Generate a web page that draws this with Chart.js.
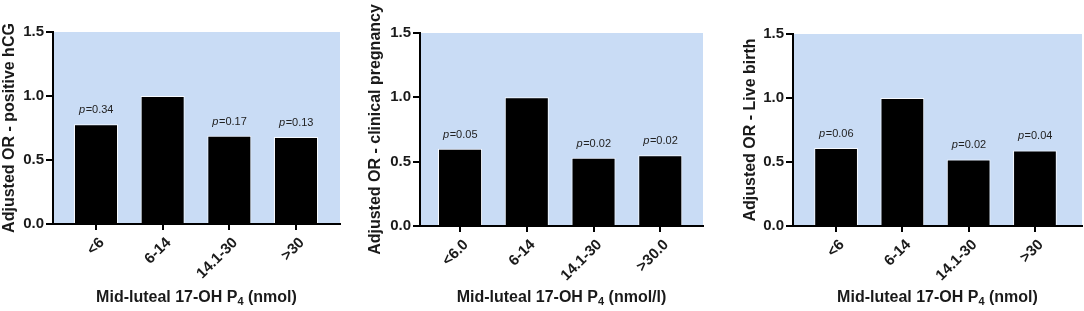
<!DOCTYPE html>
<html>
<head>
<meta charset="utf-8">
<script src="https://cdn.jsdelivr.net/npm/chart.js@4.4.1/dist/chart.umd.min.js"></script>
<style>
  html, body { margin: 0; padding: 0; background: #fff; }
  body { width: 1084px; height: 311px; position: relative; overflow: hidden; }
  .panel { position: absolute; top: 0; height: 311px; }
</style>
</head>
<body>
<div class="panel" id="w1" style="left:0;width:350px"><canvas id="c1" width="350" height="311"></canvas></div>
<div class="panel" id="w2" style="left:360px;width:350px"><canvas id="c2" width="350" height="311"></canvas></div>
<div class="panel" id="w3" style="left:720px;width:364px"><canvas id="c3" width="364" height="311"></canvas></div>
<script>
// ---- Data ----
const categoriesA = ['<6', '6-14', '14.1-30', '>30'];
const categoriesB = ['<6.0', '6-14', '14.1-30', '>30.0'];
const categoriesC = ['<6', '6-14', '14.1-30', '>30'];

const orPositiveHCG = [0.78, 1.00, 0.69, 0.68];
const orClinicalPregnancy = [0.60, 1.00, 0.53, 0.55];
const orLiveBirth = [0.61, 1.00, 0.52, 0.59];

const pPositiveHCG = ['0.34', null, '0.17', '0.13'];
const pClinicalPregnancy = ['0.05', null, '0.02', '0.02'];
const pLiveBirth = ['0.06', null, '0.02', '0.04'];

const yTitles = ['Adjusted OR - positive hCG', 'Adjusted OR - clinical pregnancy', 'Adjusted OR - Live birth'];
const xTitleUnits = ['(nmol)', '(nmol/l)', '(nmol)'];
const yTicks = [0, 0.5, 1.0, 1.5];

// ---- Plugins ----
const bgPlugin = {
  id: 'bg',
  beforeDraw(chart) {
    const a = chart.chartArea, ctx = chart.ctx;
    ctx.save();
    ctx.fillStyle = '#c9dcf5';
    ctx.fillRect(a.left, a.top, a.right - a.left, a.bottom - a.top);
    ctx.restore();
  }
};

const pLabelPlugin = {
  id: 'pLabels',
  afterDatasetsDraw(chart, args, opts) {
    const ctx = chart.ctx;
    const meta = chart.getDatasetMeta(0);
    const pv = opts.values || [];
    ctx.save();
    ctx.fillStyle = '#222';
    ctx.textBaseline = 'alphabetic';
    ctx.textAlign = 'left';
    meta.data.forEach((bar, i) => {
      if (!pv[i]) return;
      const f1 = 'italic 11px "Liberation Sans", Arial, sans-serif';
      const f2 = '11px "Liberation Sans", Arial, sans-serif';
      ctx.font = f1; const w1 = ctx.measureText('p').width;
      ctx.font = f2; const t2 = '=' + pv[i]; const w2 = ctx.measureText(t2).width;
      const x0 = bar.x - (w1 + w2) / 2;
      const y = bar.y - 11;
      ctx.font = f1; ctx.fillText('p', x0, y);
      ctx.font = f2; ctx.fillText(t2, x0 + w1 + 0.5, y);
    });
    ctx.restore();
  }
};

const xTitlePlugin = {
  id: 'xTitle',
  afterDraw(chart, args, opts) {
    const ctx = chart.ctx, a = chart.chartArea;
    const big = 'bold 16px "Liberation Sans", Arial, sans-serif';
    const small = 'bold 11px "Liberation Sans", Arial, sans-serif';
    const t1 = 'Mid-luteal 17-OH P', t2 = '4', t3 = ' ' + opts.units;
    ctx.save();
    ctx.fillStyle = '#1a1a1a';
    ctx.textBaseline = 'alphabetic';
    ctx.textAlign = 'left';
    ctx.font = big; const w1 = ctx.measureText(t1).width, w3 = ctx.measureText(t3).width;
    ctx.font = small; const w2 = ctx.measureText(t2).width;
    const total = w1 + w2 + w3;
    let x = (a.left + a.right) / 2 - total / 2;
    const y = 302;
    ctx.font = big; ctx.fillText(t1, x, y); x += w1;
    ctx.font = small; ctx.fillText(t2, x, y + 3); x += w2;
    ctx.font = big; ctx.fillText(t3, x, y);
    ctx.restore();
  }
};

// ---- Builder ----
function makeChart(id, cats, vals, pvals, yTitle, units, geom) {
  const tickFont = { family: '"Liberation Sans", Arial, sans-serif', size: 15, weight: 'bold' };
  const points = vals.map((v, i) => ({ x: i, y: v }));
  return new Chart(document.getElementById(id), {
    type: 'bar',
    data: {
      datasets: [{
        data: points,
        backgroundColor: '#000',
        borderColor: 'rgba(255,255,255,0.85)',
        borderWidth: 1,
        categoryPercentage: 1.0,
        barPercentage: 0.66
      }]
    },
    plugins: [bgPlugin, pLabelPlugin, xTitlePlugin],
    options: {
      responsive: false,
      animation: false,
      layout: { padding: { top: geom.top, right: geom.right, left: 0, bottom: 0 } },
      plugins: {
        legend: { display: false },
        tooltip: { enabled: false },
        pLabels: { values: pvals },
        xTitle: { units: units }
      },
      scales: {
        x: {
          type: 'linear',
          min: geom.xmin, max: geom.xmax,
          offset: false,
          afterFit(scale) { scale.height = geom.xh; },
          afterBuildTicks(scale) { scale.ticks = cats.map((c, i) => ({ value: i })); },
          border: { color: '#000', width: 2 },
          grid: { display: true, drawOnChartArea: false, color: '#000', lineWidth: 2, tickLength: 6, offset: false },
          ticks: {
            color: '#1a1a1a', font: tickFont, minRotation: 45, maxRotation: 45,
            autoSkip: false, padding: 4, labelOffset: 6,
            callback: (v) => cats[Math.round(v)]
          }
        },
        y: {
          min: 0, max: 1.5,
          afterFit(scale) { scale.width = geom.yw; },
          afterBuildTicks(scale) { scale.ticks = yTicks.map(v => ({ value: v })); },
          border: { color: '#000', width: 2 },
          grid: { display: true, drawOnChartArea: false, color: '#000', lineWidth: 2, tickLength: 7 },
          ticks: {
            color: '#1a1a1a', font: tickFont, padding: 2,
            callback: (v) => Number(v).toFixed(1)
          },
          title: {
            display: true, text: yTitle, color: '#1a1a1a',
            font: { family: '"Liberation Sans", Arial, sans-serif', size: 16, weight: 'bold' },
            padding: { top: geom.tp, bottom: 0 }
          }
        }
      }
    }
  });
}

makeChart('c1', categoriesA, orPositiveHCG, pPositiveHCG, yTitles[0], xTitleUnits[0],
  { top: 32, right: 350 - 340, xh: 311 - 224, yw: 53, tp: 0, xmin: -0.645, xmax: 3.66 });
makeChart('c2', categoriesB, orClinicalPregnancy, pClinicalPregnancy, yTitles[1], xTitleUnits[1],
  { top: 33, right: 350 - 343, xh: 311 - 226, yw: 60, tp: 6, xmin: -0.6, xmax: 3.64 });
makeChart('c3', categoriesC, orLiveBirth, pLiveBirth, yTitles[2], xTitleUnits[2],
  { top: 34, right: 364 - 362, xh: 311 - 226, yw: 73, tp: 21, xmin: -0.65, xmax: 3.71 });
</script>
</body>
</html>
